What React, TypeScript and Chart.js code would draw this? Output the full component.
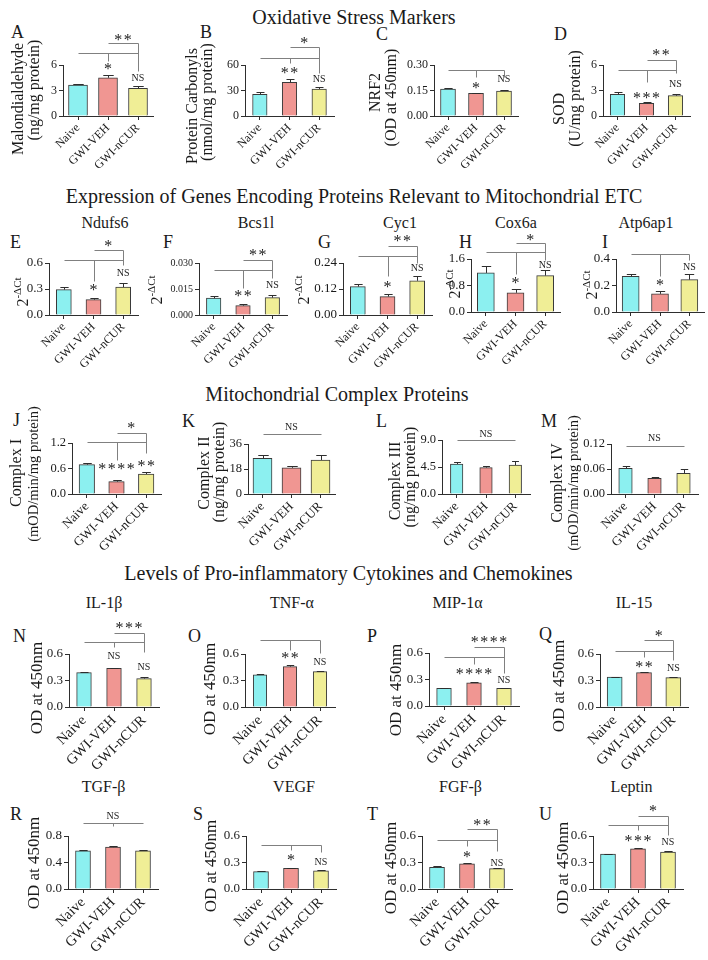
import React, { useEffect, useRef } from 'react';
import { Chart, registerables } from 'chart.js';
Chart.register(...registerables);

const FONT = '"Liberation Serif", "Times New Roman", serif';
const FAM = 'Liberation Serif';

// ---------- categories & colours ----------
const groups = ['Naive', 'GWI-VEH', 'GWI-nCUR'];
const barColors = ['#8cf0f0', '#f09692', '#f0ee96'];

// ---------- values (mean, SEM) ----------
const mdaMean = [3.65, 4.5, 3.26];
const mdaErr = [0.1, 0.3, 0.3];
const carbMean = [25.5, 39.6, 31.8];
const carbErr = [2.4, 3.9, 2.0];
const nrf2Mean = [0.159, 0.133, 0.147];
const nrf2Err = [0.007, 0.003, 0.008];
const sodMean = [2.55, 1.49, 2.39];
const sodErr = [0.24, 0.19, 0.16];
const ndufs6Mean = [0.293, 0.177, 0.322];
const ndufs6Err = [0.03, 0.02, 0.05];
const bcs1lMean = [0.0097, 0.0054, 0.01];
const bcs1lErr = [0.0012, 0.001, 0.0014];
const cyc1Mean = [0.131, 0.085, 0.158];
const cyc1Err = [0.012, 0.011, 0.02];
const cox6aMean = [1.18, 0.58, 1.1];
const cox6aErr = [0.2, 0.1, 0.16];
const atpMean = [0.27, 0.137, 0.244];
const atpErr = [0.02, 0.025, 0.04];
const c1Mean = [0.69, 0.29, 0.47];
const c1Err = [0.05, 0.05, 0.05];
const c2Mean = [25.7, 18.9, 24.5];
const c2Err = [2.3, 1.5, 3.5];
const c3Mean = [5.0, 4.4, 4.83];
const c3Err = [0.4, 0.3, 0.6];
const c4Mean = [0.0617, 0.0377, 0.0497];
const c4Err = [0.006, 0.004, 0.01];
const il1bMean = [0.389, 0.439, 0.322];
const il1bErr = [0.005, 0.008, 0.015];
const tnfMean = [0.363, 0.457, 0.4];
const tnfErr = [0.015, 0.015, 0.01];
const mipMean = [0.199, 0.262, 0.199];
const mipErr = [0.005, 0.008, 0.005];
const il15Mean = [0.338, 0.389, 0.333];
const il15Err = [0.005, 0.006, 0.006];
const tgfMean = [0.578, 0.632, 0.578];
const tgfErr = [0.01, 0.02, 0.01];
const vegfMean = [0.196, 0.234, 0.207];
const vegfErr = [0.005, 0.004, 0.006];
const fgfMean = [0.245, 0.285, 0.23];
const fgfErr = [0.01, 0.006, 0.008];
const leptinMean = [0.396, 0.455, 0.418];
const leptinErr = [0.004, 0.006, 0.01];

// ---------- tick labels ----------
const ticks036 = ['0', '3', '6'];
const ticksCarb = ['0', '30', '60'];
const ticksNrf2 = ['0.00', '0.15', '0.30'];
const ticks06 = ['0.0', '0.3', '0.6'];
const ticksBcs = ['0.000', '0.015', '0.030'];
const ticksCyc = ['0.00', '0.12', '0.24'];
const ticksCox = ['0.0', '0.8', '1.6'];
const ticksAtp = ['0.0', '0.2', '0.4'];
const ticksC1 = ['0.0', '0.6', '1.2'];
const ticksC2 = ['0', '18', '36'];
const ticksC3 = ['0.0', '4.5', '9.0'];
const ticksC4 = ['0.00', '0.06', '0.12'];
const ticksTgf = ['0.0', '0.4', '0.8'];

// ---------- significance annotations (data units) ----------
type Bracket = { from: number; to: number; y: number; drops: [number, number][] };
type Mark = { x: number; y: number; text: string };
const br = (from: number, to: number, y: number, drops: [number, number][] = []): Bracket => ({ from, to, y, drops });
const mk = (x: number, y: number, text: string): Mark => ({ x, y, text });

const mdaBr = [br(0, 2, 7.45, [[1, 6.47]]), br(1, 2, 8.56, [[2, 5.3]])];
const mdaMk = [mk(1, 5.8, '*'), mk(2, 4.5, 'NS'), mk(1.5, 9.26, '**')];
const carbBr = [br(0, 2, 67.9, [[1, 62]]), br(1, 2, 81.5, [[2, 50.2]])];
const carbMk = [mk(1, 53.3, '**'), mk(2, 43.5, 'NS'), mk(1.5, 89.4, '*')];
const nrf2Br = [br(0, 2, 0.271, [[1, 0.232], [2, 0.232]])];
const nrf2Mk = [mk(1, 0.178, '*'), mk(2, 0.218, 'NS')];
const sodBr = [br(0, 2, 5.41, [[1, 4.04]]), br(1, 2, 6.53, [[2, 5.02]])];
const sodMk = [mk(1, 2.47, '***'), mk(2, 3.85, 'NS'), mk(1.5, 7.45, '**')];
const ndufs6Br = [br(0, 2, 0.634, [[1, 0.388]]), br(1, 2, 0.749, [[2, 0.577]])];
const ndufs6Mk = [mk(1, 0.315, '*'), mk(2, 0.49, 'NS'), mk(1.5, 0.827, '*')];
const bcs1lBr = [br(0, 2, 0.0261, [[1, 0.0155]]), br(1, 2, 0.0319, [[2, 0.0215]])];
const bcs1lMk = [mk(1, 0.0122, '**'), mk(2, 0.0174, 'NS'), mk(1.5, 0.0358, '**')];
const cyc1Br = [br(0, 2, 0.271, [[1, 0.178]]), br(1, 2, 0.317, [[2, 0.24]])];
const cyc1Mk = [mk(1, 0.139, '*'), mk(2, 0.217, 'NS'), mk(1.5, 0.351, '**')];
const cox6aBr = [br(0, 2, 1.8, [[1, 1.16]]), br(1, 2, 2.08, [[2, 1.58]])];
const cox6aMk = [mk(1, 0.95, '*'), mk(2, 1.43, 'NS'), mk(1.5, 2.26, '*')];
const atpBr = [br(0, 2, 0.44, [[1, 0.269], [2, 0.395]])];
const atpMk = [mk(1, 0.22, '*'), mk(2, 0.344, 'NS')];
const c1Br = [br(0, 2, 1.214, [[1, 0.805]]), br(1, 2, 1.437, [[2, 0.963]])];
const c1Mk = [mk(1, 0.646, '****'), mk(2, 0.727, '**'), mk(1.5, 1.61, '*')];
const c2Br = [br(0, 2, 43)];
const c2Mk = [mk(1, 48.5, 'NS')];
const c3Br = [br(0, 2, 9.0)];
const c3Mk = [mk(1, 10, 'NS')];
const c4Br = [br(0, 2, 0.115)];
const c4Mk = [mk(1, 0.134, 'NS')];
const il1bBr = [br(0, 2, 0.738, [[1, 0.682]]), br(1, 2, 0.839, [[2, 0.625]])];
const il1bMk = [mk(1, 0.577, 'NS'), mk(2, 0.457, 'NS'), mk(1.5, 0.926, '***')];
const tnfBr = [br(0, 2, 0.757, [[1, 0.645], [2, 0.615]])];
const tnfMk = [mk(1, 0.58, '**'), mk(2, 0.513, 'NS')];
const mipBr = [br(0, 2, 0.555, [[1, 0.48]]), br(1, 2, 0.667, [[2, 0.375]])];
const mipMk = [mk(1, 0.386, '****'), mk(2, 0.3, 'NS'), mk(1.5, 0.75, '****')];
const il15Br = [br(0, 2, 0.637, [[1, 0.569]]), br(1, 2, 0.757, [[2, 0.532]])];
const il15Mk = [mk(1, 0.476, '**'), mk(2, 0.445, 'NS'), mk(1.5, 0.836, '*')];
const tgfBr = [br(0, 2, 1.0, [[1, 0.95]])];
const tgfMk = [mk(1, 1.1, 'NS')];
const vegfBr = [br(0, 2, 0.498, [[1, 0.442], [2, 0.422]])];
const vegfMk = [mk(1, 0.359, '*'), mk(2, 0.309, 'NS')];
const fgfBr = [br(0, 2, 0.555, [[1, 0.487]]), br(1, 2, 0.676, [[2, 0.434]])];
const fgfMk = [mk(1, 0.385, '*'), mk(2, 0.298, 'NS'), mk(1.5, 0.751, '**')];
const leptinBr = [br(0, 2, 0.725, [[1, 0.668]]), br(1, 2, 0.83, [[2, 0.611]])];
const leptinMk = [mk(1, 0.574, '***'), mk(2, 0.536, 'NS'), mk(1.5, 0.914, '*')];

// ---------- panel layout ----------
type TitleLine = { text: string; x: number; y: number; size?: number };
interface Spec {
  mean: number[]; err: number[]; ticks: string[]; brackets: Bracket[]; marks: Mark[];
  axisX: number; topY: number; botY: number; spacing: number; barW: number;
  tickFont: number; xFont: number; title?: TitleLine[]; dct?: { x: number; y: number };
}

const OD = 'OD at 450nm';
const panels: Spec[] = [
  { mean: mdaMean, err: mdaErr, ticks: ticks036, brackets: mdaBr, marks: mdaMk, axisX: 63, topY: 65, botY: 116, spacing: 30, barW: 19, tickFont: 12, xFont: 12,
    title: [{ text: 'Malondialdehyde', x: 18.5, y: 99 }, { text: '(ng/mg protein)', x: 35, y: 90 }] },
  { mean: carbMean, err: carbErr, ticks: ticksCarb, brackets: carbBr, marks: carbMk, axisX: 244.5, topY: 65, botY: 116, spacing: 29.5, barW: 14.5, tickFont: 12, xFont: 12,
    title: [{ text: 'Protein Carbonyls', x: 193, y: 106 }, { text: '(nmol/mg protein)', x: 208, y: 102 }] },
  { mean: nrf2Mean, err: nrf2Err, ticks: ticksNrf2, brackets: nrf2Br, marks: nrf2Mk, axisX: 434, topY: 65, botY: 116, spacing: 28, barW: 15, tickFont: 12, xFont: 12,
    title: [{ text: 'NRF2', x: 376, y: 92.5 }, { text: '(OD at 450nm)', x: 392, y: 97.5 }] },
  { mean: sodMean, err: sodErr, ticks: ticks036, brackets: sodBr, marks: sodMk, axisX: 602.5, topY: 65, botY: 116, spacing: 29, barW: 14.5, tickFont: 12, xFont: 12,
    title: [{ text: 'SOD', x: 560, y: 109 }, { text: '(U/mg protein)', x: 576, y: 98.5 }] },

  { mean: ndufs6Mean, err: ndufs6Err, ticks: ticks06, brackets: ndufs6Br, marks: ndufs6Mk, axisX: 48.5, topY: 263.3, botY: 315.5, spacing: 29.5, barW: 15, tickFont: 13, xFont: 12, dct: { x: 22.5, y: 292 } },
  { mean: bcs1lMean, err: bcs1lErr, ticks: ticksBcs, brackets: bcs1lBr, marks: bcs1lMk, axisX: 199.3, topY: 263.3, botY: 315, spacing: 29.25, barW: 14.5, tickFont: 10, xFont: 12, dct: { x: 157, y: 290 } },
  { mean: cyc1Mean, err: cyc1Err, ticks: ticksCyc, brackets: cyc1Br, marks: cyc1Mk, axisX: 343.3, topY: 263.3, botY: 315, spacing: 29.5, barW: 15, tickFont: 13, xFont: 12, dct: { x: 304, y: 290 } },
  { mean: cox6aMean, err: cox6aErr, ticks: ticksCox, brackets: cox6aBr, marks: cox6aMk, axisX: 471, topY: 259.3, botY: 312.7, spacing: 29.6, barW: 17, tickFont: 13, xFont: 12, dct: { x: 455, y: 284 } },
  { mean: atpMean, err: atpErr, ticks: ticksAtp, brackets: atpBr, marks: atpMk, axisX: 616, topY: 259.3, botY: 312.5, spacing: 29.3, barW: 17, tickFont: 13, xFont: 12, dct: { x: 592, y: 285 } },

  { mean: c1Mean, err: c1Err, ticks: ticksC1, brackets: c1Br, marks: c1Mk, axisX: 71.5, topY: 443.3, botY: 494, spacing: 29.5, barW: 15.5, tickFont: 12.5, xFont: 13,
    title: [{ text: 'Complex I', x: 17, y: 473 }, { text: '(mOD/min/mg protein)', x: 34, y: 474, size: 14.5 }] },
  { mean: c2Mean, err: c2Err, ticks: ticksC2, brackets: c2Br, marks: c2Mk, axisX: 248, topY: 444, botY: 494, spacing: 29, barW: 19, tickFont: 12.5, xFont: 13,
    title: [{ text: 'Complex II', x: 205, y: 473 }, { text: '(ng/mg protein)', x: 220, y: 472 }] },
  { mean: c3Mean, err: c3Err, ticks: ticksC3, brackets: c3Br, marks: c3Mk, axisX: 441.5, topY: 440, botY: 494, spacing: 29.2, barW: 12.5, tickFont: 12.5, xFont: 13,
    title: [{ text: 'Complex III', x: 396, y: 481 }, { text: '(ng/mg protein)', x: 411, y: 477 }] },
  { mean: c4Mean, err: c4Err, ticks: ticksC4, brackets: c4Br, marks: c4Mk, axisX: 611, topY: 444, botY: 494, spacing: 29.1, barW: 13.5, tickFont: 12.5, xFont: 13,
    title: [{ text: 'Complex IV', x: 558, y: 483 }, { text: '(mOD/min/mg protein)', x: 574, y: 483, size: 14.5 }] },

  { mean: il1bMean, err: il1bErr, ticks: ticks06, brackets: il1bBr, marks: il1bMk, axisX: 68.5, topY: 654, botY: 707.3, spacing: 30, barW: 14.7, tickFont: 13, xFont: 14.5,
    title: [{ text: OD, x: 37.5, y: 688, size: 17 }] },
  { mean: tnfMean, err: tnfErr, ticks: ticks06, brackets: tnfBr, marks: tnfMk, axisX: 245, topY: 654, botY: 707.3, spacing: 30, barW: 13.5, tickFont: 13, xFont: 14.5,
    title: [{ text: OD, x: 210.5, y: 689, size: 17 }] },
  { mean: mipMean, err: mipErr, ticks: ticks06, brackets: mipBr, marks: mipMk, axisX: 429, topY: 652.7, botY: 706, spacing: 30, barW: 14.7, tickFont: 13, xFont: 14.5,
    title: [{ text: OD, x: 397, y: 690, size: 17 }] },
  { mean: il15Mean, err: il15Err, ticks: ticks06, brackets: il15Br, marks: il15Mk, axisX: 600, topY: 654, botY: 707.3, spacing: 29.3, barW: 15, tickFont: 13, xFont: 14.5,
    title: [{ text: OD, x: 560, y: 686, size: 17 }] },

  { mean: tgfMean, err: tgfErr, ticks: ticksTgf, brackets: tgfBr, marks: tgfMk, axisX: 67.5, topY: 836, botY: 889, spacing: 30, barW: 15, tickFont: 13, xFont: 14.5,
    title: [{ text: OD, x: 35, y: 863, size: 17 }] },
  { mean: vegfMean, err: vegfErr, ticks: ticks06, brackets: vegfBr, marks: vegfMk, axisX: 245.5, topY: 836, botY: 889, spacing: 30, barW: 15, tickFont: 13, xFont: 14.5,
    title: [{ text: OD, x: 211.5, y: 866, size: 17 }] },
  { mean: fgfMean, err: fgfErr, ticks: ticks06, brackets: fgfBr, marks: fgfMk, axisX: 421.5, topY: 836, botY: 889, spacing: 30, barW: 15, tickFont: 13, xFont: 14.5,
    title: [{ text: OD, x: 392, y: 868, size: 17 }] },
  { mean: leptinMean, err: leptinErr, ticks: ticks06, brackets: leptinBr, marks: leptinMk, axisX: 593, topY: 836, botY: 889, spacing: 30, barW: 15, tickFont: 13, xFont: 14.5,
    title: [{ text: OD, x: 564, y: 868, size: 17 }] },
];

const letters: [string, number, number][] = [
  ['A', 11, 38.3], ['B', 200, 38.3], ['C', 376, 40], ['D', 554, 40],
  ['E', 10, 248.3], ['F', 163, 248.3], ['G', 318, 248.3], ['H', 459, 248.3], ['I', 602, 248.3],
  ['J', 13, 426.5], ['K', 182, 426.7], ['L', 376, 426.7], ['M', 541, 426.7],
  ['N', 13, 641.7], ['O', 188, 641.7], ['P', 367, 641.7], ['Q', 539, 640.5],
  ['R', 10, 820], ['S', 193, 820], ['T', 367, 820], ['U', 539, 820],
];
const genes: [string, number, number][] = [
  ['Ndufs6', 105, 228.3], ['Bcs1l', 256, 228.3], ['Cyc1', 400, 228.3], ['Cox6a', 516, 228.3], ['Atp6ap1', 646, 228.3],
  ['IL-1β', 104, 608.3], ['TNF-α', 292, 608.3], ['MIP-1α', 457.5, 608.3], ['IL-15', 634, 608.3],
  ['TGF-β', 103.5, 792.7], ['VEGF', 294, 792.7], ['FGF-β', 460.5, 792.7], ['Leptin', 631.5, 792.7],
];
const sections: [string, number, number][] = [
  ['Oxidative Stress Markers', 354, 24],
  ['Expression of Genes Encoding Proteins Relevant to Mitochondrial ETC', 354, 202.3],
  ['Mitochondrial Complex Proteins', 337, 400.7],
  ['Levels of Pro-inflammatory Cytokines and Chemokines', 348.5, 580],
];

const AW = 75, TP = 50, BOT = 85, RP = 6;
const AX = '#2e2e2e';
const BRK = '#808080';

function Panel({ spec }: { spec: Spec }) {
  const ref = useRef<HTMLCanvasElement>(null);
  const left = Math.round(spec.axisX - AW);
  const top = Math.round(spec.topY - TP);
  const plotH = Math.round(spec.botY - spec.topY);
  const W = AW + Math.round(3 * spec.spacing) + RP;
  const H = TP + plotH + BOT;

  useEffect(() => {
    const tickVals = spec.ticks.map((t) => parseFloat(t));
    const px = (v: number) => Math.round(v) + 0.5;
    const annot = {
      id: 'annot',
      afterDatasetsDraw(chart: any) {
        const ctx = chart.ctx;
        const y = chart.scales.y;
        const meta = chart.getDatasetMeta(0);
        ctx.save();
        ctx.strokeStyle = AX;
        ctx.lineWidth = 1;
        meta.data.forEach((bar: any, i: number) => {
          const x = px(bar.x);
          const yTop = y.getPixelForValue(spec.mean[i]);
          const yE = px(y.getPixelForValue(spec.mean[i] + spec.err[i]));
          const cap = (spec.barW * 0.55) / 2;
          ctx.beginPath();
          ctx.moveTo(x, yTop);
          ctx.lineTo(x, yE);
          ctx.moveTo(x - cap, yE);
          ctx.lineTo(x + cap, yE);
          ctx.stroke();
        });
        ctx.restore();
      },
      afterDraw(chart: any) {
        const ctx = chart.ctx;
        const xs = chart.scales.x;
        const ys = chart.scales.y;
        ctx.save();
        // brackets
        ctx.strokeStyle = BRK;
        ctx.lineWidth = 1;
        spec.brackets.forEach((b) => {
          const yy = px(ys.getPixelForValue(b.y));
          ctx.beginPath();
          ctx.moveTo(px(xs.getPixelForValue(b.from)), yy);
          ctx.lineTo(px(xs.getPixelForValue(b.to)), yy);
          b.drops.forEach(([i, v]) => {
            const xx = px(xs.getPixelForValue(i));
            ctx.moveTo(xx, yy);
            ctx.lineTo(xx, px(ys.getPixelForValue(v)));
          });
          ctx.stroke();
        });
        // stars / NS
        ctx.fillStyle = '#222';
        ctx.textAlign = 'center';
        ctx.textBaseline = 'alphabetic';
        spec.marks.forEach((m) => {
          const x = xs.getPixelForValue(m.x);
          const yc = ys.getPixelForValue(m.y);
          if (m.text === 'NS') {
            ctx.letterSpacing = '0px';
            ctx.font = `10px "${FAM}"`;
            ctx.fillText('NS', x, yc + 3.3);
          } else {
            ctx.letterSpacing = '1.5px';
            ctx.font = `16px "${FAM}"`;
            ctx.fillText(m.text, x + 0.75, yc + 7.5);
          }
        });
        ctx.letterSpacing = '0px';
        // y-axis titles
        ctx.fillStyle = '#1a1a1a';
        if (spec.title) {
          spec.title.forEach((t) => {
            const size = t.size || 16;
            ctx.save();
            ctx.translate(t.x - left, t.y - top);
            ctx.rotate(-Math.PI / 2);
            ctx.font = `${size}px "${FAM}"`;
            ctx.textAlign = 'center';
            ctx.textBaseline = 'middle';
            ctx.fillText(t.text, 0, 0);
            ctx.restore();
          });
        }
        if (spec.dct) {
          ctx.save();
          ctx.translate(spec.dct.x - left, spec.dct.y - top);
          ctx.rotate(-Math.PI / 2);
          ctx.textAlign = 'left';
          ctx.textBaseline = 'alphabetic';
          ctx.font = `16px "${FAM}"`;
          const w2 = ctx.measureText('2').width;
          ctx.font = `11px "${FAM}"`;
          const ws = ctx.measureText('-ΔCt').width;
          const x0 = -(w2 + ws) / 2;
          ctx.font = `16px "${FAM}"`;
          ctx.fillText('2', x0, 5.3);
          ctx.font = `11px "${FAM}"`;
          ctx.fillText('-ΔCt', x0 + w2, -1.7);
          ctx.restore();
        }
        ctx.restore();
      },
    };

    const chart = new Chart(ref.current as HTMLCanvasElement, {
      type: 'bar',
      data: {
        labels: groups,
        datasets: [
          {
            data: spec.mean,
            backgroundColor: barColors,
            borderColor: '#3a3a3a',
            borderWidth: 1,
            barThickness: spec.barW,
            borderSkipped: 'start',
          },
        ],
      },
      options: {
        animation: false,
        responsive: false,
        maintainAspectRatio: false,
        events: [],
        layout: { padding: { left: 0, right: RP, top: TP, bottom: 0 } },
        plugins: { legend: { display: false }, tooltip: { enabled: false } },
        scales: {
          x: {
            type: 'category',
            offset: true,
            grid: { display: true, drawOnChartArea: false, drawTicks: true, tickLength: 4, offset: false, color: AX, lineWidth: 1 },
            border: { display: true, color: AX, width: 1 },
            ticks: { autoSkip: false, minRotation: 45, maxRotation: 45, padding: 1, color: '#1a1a1a', font: { family: FAM, size: spec.xFont } },
            afterFit: (s: any) => { s.height = BOT; },
          },
          y: {
            min: 0,
            max: tickVals[tickVals.length - 1],
            afterBuildTicks: (s: any) => { s.ticks = tickVals.map((v) => ({ value: v })); },
            ticks: {
              padding: 2,
              color: '#1a1a1a',
              font: { family: FAM, size: spec.tickFont },
              callback: (_v: any, i: number) => spec.ticks[i],
            },
            grid: { display: true, drawOnChartArea: false, tickLength: 4, color: AX, lineWidth: 1 },
            border: { display: true, color: AX, width: 1 },
            afterFit: (s: any) => { s.width = AW; },
          },
        },
      } as any,
      plugins: [annot as any],
    });
    return () => chart.destroy();
  }, []);

  return (
    <canvas
      ref={ref}
      width={W}
      height={H}
      style={{ position: 'absolute', left, top, width: W, height: H }}
    />
  );
}

function Txt({ text, x, base, size, center }: { text: string; x: number; base: number; size: number; center?: boolean }) {
  const style: React.CSSProperties = {
    position: 'absolute',
    left: x,
    top: base - 0.8375 * size,
    fontSize: size,
    lineHeight: `${size}px`,
    fontFamily: FONT,
    whiteSpace: 'nowrap',
    color: '#1a1a1a',
    transform: center ? 'translateX(-50%)' : undefined,
  };
  return <div style={style}>{text}</div>;
}

export default function App() {
  return (
    <div style={{ position: 'absolute', left: 0, top: 0, width: 708, height: 960, background: '#fff', overflow: 'hidden' }}>
      {sections.map(([t, x, b]) => (
        <Txt key={t} text={t} x={x} base={b} size={20} center />
      ))}
      {letters.map(([t, x, b]) => (
        <Txt key={t} text={t} x={x} base={b} size={18} />
      ))}
      {genes.map(([t, x, b]) => (
        <Txt key={t} text={t} x={x} base={b} size={16} center />
      ))}
      {panels.map((p, i) => (
        <Panel key={i} spec={p} />
      ))}
    </div>
  );
}
